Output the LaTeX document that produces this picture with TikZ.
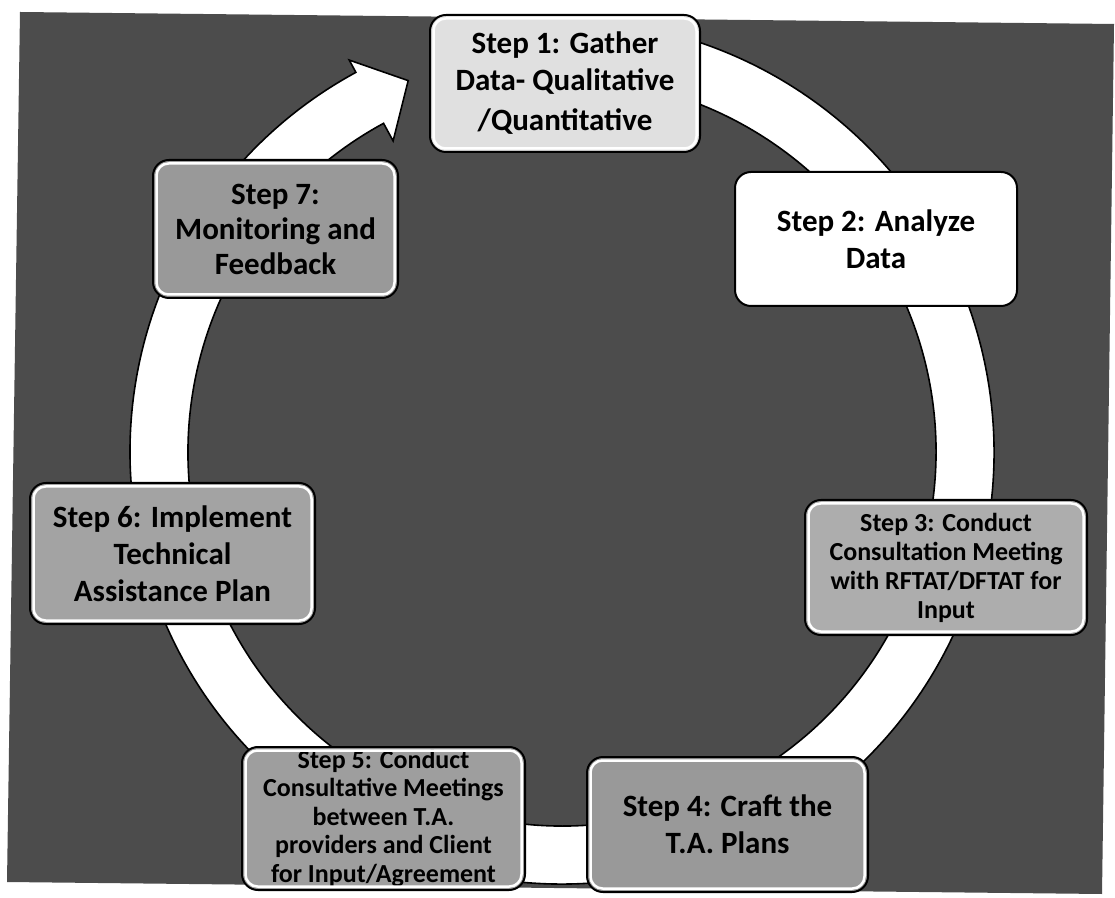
\documentclass[tikz,border=0pt]{standalone}
\usepackage{fontspec}
\setmainfont{Carlito}
\definecolor{bgc}{gray}{0.30}
\definecolor{cone}{gray}{0.88}
\definecolor{cthree}{gray}{0.68}
\definecolor{cfour}{gray}{0.60}
\definecolor{cfive}{gray}{0.62}
\definecolor{csix}{gray}{0.64}
\definecolor{cseven}{gray}{0.60}
\begin{document}
\begin{tikzpicture}[x=1pt,y=1pt,
  stepbox/.style={rounded corners=16pt, draw=black, line width=2pt, align=center,
    inner sep=0pt, text=black, font=\bfseries\fontsize{31}{37}\selectfont},
  smalltext/.style={font=\bfseries\fontsize{26}{29}\selectfont},
  ring/.style={fill=white, draw=black, line width=1.6pt, line join=miter}]
\useasboundingbox (0,0) rectangle (1115,897);
\fill[white] (0,0) rectangle (1115,897);
\fill[bgc] (20,885) -- (1114,873) -- (1102,3) -- (7,15) -- cycle;
% circular arrow
\begin{scope}[shift={(562,445)}]
\path[ring]
 (100:432) arc[start angle=100, end angle=-241.5, radius=432]
 -- (-241.5:446) -- (-247.5:402) -- (-241.5:354) -- (-241.5:374)
 arc[start angle=-241.5, end angle=100, radius=374] -- cycle;
\end{scope}
% steps
\node[stepbox, fill=cone, minimum width=270, minimum height=137] (s1) at (565,813.5)
  {Step 1: Gather\\Data- Qualitative\\[3pt]/Quantitative};
\node[stepbox, fill=white, minimum width=282, minimum height=134] (s2) at (876,658)
  {Step 2: Analyze\\Data};
\node[stepbox, smalltext, fill=cthree, minimum width=282, minimum height=135] (s3) at (946,329.5)
  {Step 3: Conduct\\Consultation Meeting\\with RFTAT/DFTAT for\\Input};
\node[stepbox, fill=cfour, minimum width=281, minimum height=135] (s4) at (727.5,72.5)
  {Step 4: Craft the\\T.A. Plans};
\node[stepbox, font=\bfseries\fontsize{26}{28.5}\selectfont, fill=cfive, minimum width=283, minimum height=143] (s5) at (383.5,78.5)
  {Step 5: Conduct\\Consultative Meetings\\between T.A.\\providers and Client\\for Input/Agreement};
\node[stepbox, fill=csix, minimum width=285, minimum height=141] (s6) at (172.5,343.5)
  {Step 6: Implement\\Technical\\Assistance Plan};
\node[stepbox, font=\bfseries\fontsize{31}{35}\selectfont, fill=cseven, minimum width=245, minimum height=138] (s7) at (275.5,668)
  {Step 7:\\Monitoring and\\Feedback};
\foreach \n in {s1,s3,s4,s5,s6,s7}
  \draw[white, line width=2.5pt, rounded corners=12pt]
    ([shift={(4.5,4.5)}]\n.south west) rectangle ([shift={(-4.5,-4.5)}]\n.north east);
\end{tikzpicture}
\end{document}
